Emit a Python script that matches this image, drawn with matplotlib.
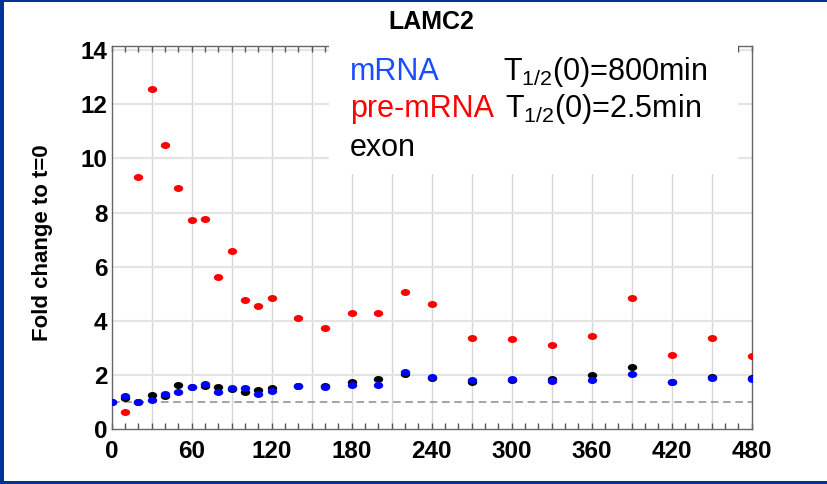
import numpy as np
import matplotlib
matplotlib.use("Agg")
import matplotlib.pyplot as plt
from matplotlib.markers import MarkerStyle
from matplotlib.patches import Rectangle
from matplotlib.path import Path
from matplotlib.transforms import Affine2D

plt.rcParams["font.family"] = ["Liberation Sans", "DejaVu Sans"]
plt.rcParams["mathtext.fontset"] = "custom"
plt.rcParams["mathtext.rm"] = "Liberation Sans"
plt.rcParams["mathtext.default"] = "regular"

gene = "LAMC2"
minutes = [0, 10, 20, 30, 40, 50, 60, 70, 80, 90, 100, 110, 120, 140, 160,
           180, 200, 220, 240, 270, 300, 330, 360, 390, 420, 450, 480]
# fold change relative to t=0
pre_mrna = [np.nan, 0.65, 9.33, 12.58, 10.51, 8.89, 7.73, 7.75, 5.63, 6.57, 4.77,
            4.55, 4.83, 4.10, 3.75, 4.28, 4.30, 5.07, 4.63, 3.37, 3.33, 3.10,
            3.45, 4.83, 2.74, 3.37, 2.69]
exon = [1.0, 1.17, 1.0, 1.26, 1.23, 1.63, 1.57, 1.61, 1.56, 1.47, 1.38, 1.45,
        1.53, 1.60, 1.60, 1.73, 1.87, 2.05, 1.88, 1.76, 1.82, 1.87, 2.00, 2.30,
        1.75, 1.92, 1.89]
mrna = [1.0, 1.22, 1.0, 1.09, 1.29, 1.36, 1.55, 1.66, 1.39, 1.51, 1.53, 1.31,
        1.40, 1.60, 1.57, 1.63, 1.64, 2.10, 1.92, 1.81, 1.84, 1.78, 1.81, 2.03,
        1.76, 1.88, 1.84]
half_life = {"mRNA": "800min", "pre-mRNA": "2.5min"}

# slightly flattened dot, as in the original slide
ell = Path.unit_circle().transformed(Affine2D().scale(1.35, 1.0))
dot = MarkerStyle(ell)
ms = 46

fig = plt.figure(figsize=(8.27, 4.84), dpi=100)
ax = fig.add_axes([0.1351, 0.1130, 0.7739, 0.7920])

for x in np.arange(30, 480, 30):
    ax.axvline(x, color="#d6d6d6", lw=1, zorder=0)
for y in np.arange(2, 14.1, 2):
    ax.axhline(y, color="#e4e4e4", lw=1.6, zorder=0)
ax.axhline(1, color="#8c8c8c", lw=1.1, ls=(0, (5, 3)), zorder=1)

ax.scatter(minutes, pre_mrna, s=ms, marker=dot, color="#ff0000", lw=0, zorder=3)
ax.scatter(minutes, exon, s=ms, marker=dot, color="#000000", lw=0, zorder=3)
ax.scatter(minutes, mrna, s=ms, marker=dot, color="#0000ff", lw=0, zorder=4)

ax.set_xlim(0, 480)
ax.set_ylim(0, 14.15)
ax.set_xticks(np.arange(0, 481, 60))
ax.set_xticks(np.arange(0, 481, 10), minor=True)
ax.set_yticks(np.arange(0, 15, 2))
ax.tick_params(axis="x", which="both", direction="in", top=True, length=4.5,
               width=1, color="#555555", pad=8)
ax.tick_params(axis="x", which="major", labelsize=17.5)
ax.tick_params(axis="y", length=0, pad=3, labelsize=17.5)
for lab in ax.get_xticklabels() + ax.get_yticklabels():
    lab.set_fontweight("bold")
for sp in ax.spines.values():
    sp.set_color("#666666")
    sp.set_linewidth(1)

ax.set_ylabel("Fold change to t=0", fontsize=16, fontweight="bold")
ax.yaxis.set_label_coords(-0.091, 0.487)
ax.set_title(gene, fontsize=18, fontweight="bold", pad=12)

# white block behind the key text, hiding grid and top spine
ax.add_patch(Rectangle((0.3395, 0.665), 0.639, 0.345, transform=ax.transAxes,
                       facecolor="white", edgecolor="none", zorder=5,
                       clip_on=False))

W, H = 827, 484
fs = 22
fig.text(350 / W, 1 - 80 / H, "mRNA", color="#1a4dff", fontsize=fs, va="baseline", zorder=6)
fig.text(350 / W, 1 - 117 / H, "pre-mRNA", color="#ff0000", fontsize=fs, va="baseline", zorder=6)
fig.text(350 / W, 1 - 156 / H, "exon", color="#000000", fontsize=fs, va="baseline", zorder=6)
fig.text(503 / W, 1 - 80 / H, "T$_{1/2}$(0)=" + half_life["mRNA"], color="#000000",
         fontsize=fs, va="baseline", zorder=6)
fig.text(505 / W, 1 - 117 / H, "T$_{1/2}$(0)=" + half_life["pre-mRNA"], color="#000000",
         fontsize=fs, va="baseline", zorder=6)

# slide frame
frame = "#003399"
fig.patches.append(Rectangle((0, 0), 4 / W, 1, transform=fig.transFigure,
                             facecolor=frame, edgecolor="none"))
fig.patches.append(Rectangle((0, 1 - 1.5 / H), 1, 1.5 / H, transform=fig.transFigure,
                             facecolor=frame, edgecolor="none"))
fig.patches.append(Rectangle((0, 0), 1, 3 / H, transform=fig.transFigure,
                             facecolor=frame, edgecolor="none"))

fig.savefig("out.png", dpi=100)
